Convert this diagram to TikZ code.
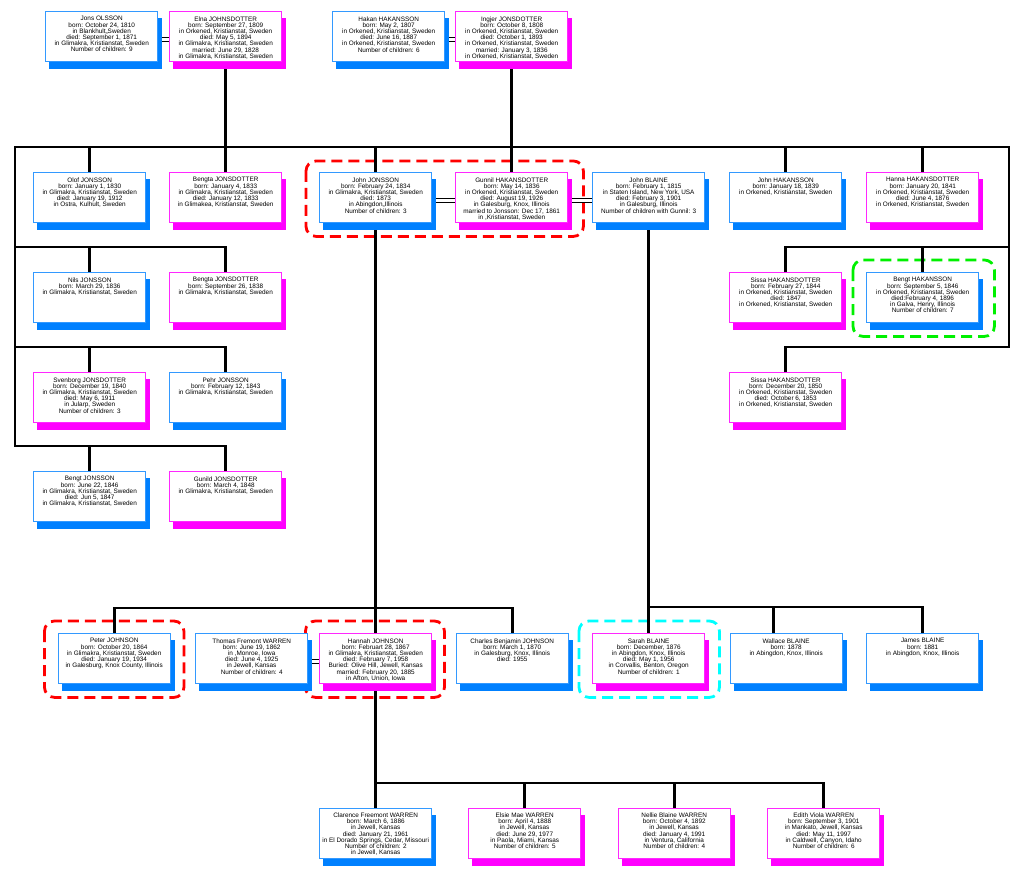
\documentclass[tikz,border=0pt]{standalone}
\usepackage{fontspec}
\setmainfont{Liberation Sans}
\definecolor{maleshadow}{RGB}{0,128,255}
\definecolor{maleborder}{RGB}{51,153,255}
\definecolor{femaleshadow}{RGB}{255,0,255}
\definecolor{femaleborder}{RGB}{255,40,255}
\definecolor{hlred}{RGB}{255,0,0}
\definecolor{hlgreen}{RGB}{0,240,0}
\definecolor{hlcyan}{RGB}{0,255,255}
\pgfdeclarelayer{hilite}
\pgfdeclarelayer{links}
\pgfdeclarelayer{shade}
\pgfsetlayers{hilite,links,shade,main}
\tikzset{
 pbox/.style={fill=white, line width=1.4pt, minimum width=112pt, minimum height=50pt,
   inner sep=0pt, anchor=north west},
 mperson/.style={pbox, draw=maleborder},
 fperson/.style={pbox, draw=femaleborder},
 txt/.style={anchor=north, align=center, inner sep=0pt},
 conn/.style={line width=2.6pt, black, line cap=rect},
 marr/.style={line width=0.9pt, black},
 hl/.style={line width=2.8pt, dash pattern=on 11pt off 6pt, rounded corners=10pt},
}
\begin{document}
\begin{tikzpicture}[x=1pt,y=-1pt]
\fontsize{6.4}{6.2}\selectfont
\lineskiplimit=-5pt
\useasboundingbox (0,0) rectangle (1024,877);
% generation 1
\node[mperson] (jons) at (45,11) {};
\node[txt] (jonst) at ([yshift=-5.2pt]jons.north) {Jons OLSSON\\born: October 24, 1810\\in Blankhult,,Sweden\\died: September 1, 1871\\in Glimakra, Kristianstat, Sweden\\Number of children: 9};
\node[fperson] (elna) at (169,11) {};
\node[txt] (elnat) at ([yshift=-5.2pt]elna.north) {Elna JOHNSDOTTER\\born: September 27, 1809\\in Orkened, Kristianstat, Sweden\\died: May 5, 1894\\in Glimakra, Kristianstat, Sweden\\married: June 29, 1828\\in Glimakra, Kristianstat, Sweden};
\node[mperson] (hakan) at (332,11) {};
\node[txt] (hakant) at ([yshift=-5.2pt]hakan.north) {Hakan HAKANSSON\\born: May 2, 1807\\in Orkened, Kristianstat, Sweden\\died: June 16, 1887\\in Orkened, Kristianstat, Sweden\\Number of children: 6};
\node[fperson] (ingjer) at (455,11) {};
\node[txt] (ingjert) at ([yshift=-5.2pt]ingjer.north) {Ingjer JONSDOTTER\\born: October 8, 1808\\in Orkened, Kristianstat, Sweden\\died: October 1, 1893\\in Orkened, Kristianstat, Sweden\\married: January 3, 1836\\in Orkened, Kristianstat, Sweden};
% generation 2
\node[mperson] (olof) at (33,172) {};
\node[txt] (oloft) at ([yshift=-5.2pt]olof.north) {Olof JONSSON\\born: January 1, 1830\\in Glimakra, Kristianstat, Sweden\\died: January 19, 1912\\in Ostra, Kulhult, Sweden};
\node[fperson] (bengtaA) at (169,172) {};
\node[txt] (bengtaAt) at ([yshift=-5.2pt]bengtaA.north) {Bengta JONSDOTTER\\born: January 4, 1833\\in Glimakra, Kristianstat, Sweden\\died: January 12, 1833\\in Glimakea, Kristianstat, Sweden};
\node[mperson] (johnj) at (319,172) {};
\node[txt] (johnjt) at ([yshift=-5.2pt]johnj.north) {John JONSSON\\born: February 24, 1834\\in Glimakra, Kristianstat, Sweden\\died: 1873\\in Abingdon,,Illinois\\Number of children: 3};
\node[fperson] (gunnil) at (455,172) {};
\node[txt] (gunnilt) at ([yshift=-5.2pt]gunnil.north) {Gunnil HAKANSDOTTER\\born: May 14, 1836\\in Orkened, Kristianstat, Sweden\\died: August 19, 1926\\in Galesburg, Knox, Illinois\\married to Jonsson: Dec 17, 1861\\in ,Kristianstat, Sweden};
\node[mperson] (blaine) at (592,172) {};
\node[txt] (blainet) at ([yshift=-5.2pt]blaine.north) {John BLAINE\\born: February 1, 1815\\in Staten Island, New York, USA\\died: February 3, 1901\\in Galesburg, Illinois\\Number of children with Gunnil: 3};
\node[mperson] (johnh) at (729,172) {};
\node[txt] (johnht) at ([yshift=-5.2pt]johnh.north) {John HAKANSSON\\born: January 18, 1839\\in Orkened, Kristianstat, Sweden};
\node[fperson] (hanna) at (866,172) {};
\node[txt] (hannat) at ([yshift=-5.2pt]hanna.north) {Hanna HAKANSDOTTER\\born: January 20, 1841\\in Orkened, Kristianstat, Sweden\\died: June 4, 1876\\in Orkened, Kristianstat, Sweden};
\node[mperson] (nils) at (33,272) {};
\node[txt] (nilst) at ([yshift=-5.2pt]nils.north) {Nils JONSSON\\born: March 29, 1836\\in Glimakra, Kristianstat, Sweden};
\node[fperson] (bengtaB) at (169,272) {};
\node[txt] (bengtaBt) at ([yshift=-5.2pt]bengtaB.north) {Bengta JONSDOTTER\\born: September 26, 1838\\in Glimakra, Kristianstat, Sweden};
\node[fperson] (sissaA) at (729,272) {};
\node[txt] (sissaAt) at ([yshift=-5.2pt]sissaA.north) {Sissa HAKANSDOTTER\\born: February 27, 1844\\in Orkened, Kristianstat, Sweden\\died: 1847\\in Orkened, Kristianstat, Sweden};
\node[mperson] (bength) at (866,272) {};
\node[txt] (bengtht) at ([yshift=-5.2pt]bength.north) {Bengt HAKANSSON\\born: September 5, 1846\\in Orkened, Kristianstat, Sweden\\died:February 4, 1896\\in Galva, Henry, Illinois\\Number of children: 7};
\node[fperson] (svenborg) at (33,372) {};
\node[txt] (svenborgt) at ([yshift=-5.2pt]svenborg.north) {Svenborg JONSDOTTER\\born: December 19, 1840\\in Glimakra, Kristianstat, Sweden\\died: May 6, 1911\\in Jularp, Sweden\\Number of children: 3};
\node[mperson] (pehr) at (169,372) {};
\node[txt] (pehrt) at ([yshift=-5.2pt]pehr.north) {Pehr JONSSON\\born: February 12, 1843\\in Glimakra, Kristianstat, Sweden};
\node[fperson] (sissaB) at (729,372) {};
\node[txt] (sissaBt) at ([yshift=-5.2pt]sissaB.north) {Sissa HAKANSDOTTER\\born: December 20, 1850\\in Orkened, Kristianstat, Sweden\\died: October 6, 1853\\in Orkened, Kristianstat, Sweden};
\node[mperson] (bengtj) at (33,471) {};
\node[txt] (bengtjt) at ([yshift=-5.2pt]bengtj.north) {Bengt JONSSON\\born: June 22, 1846\\in Glimakra, Kristianstat, Sweden\\died: Jun 5, 1847\\in Glimakra, Kristianstat, Sweden};
\node[fperson] (gunild) at (169,471) {};
\node[txt] (gunildt) at ([yshift=-5.2pt]gunild.north) {Gunild JONSDOTTER\\born: March 4, 1848\\in Glimakra, Kristianstat, Sweden};
% generation 3
\node[mperson] (peter) at (57.5,633) {};
\node[txt] (petert) at ([yshift=-5.2pt]peter.north) {Peter JOHNSON\\born: October 20, 1864\\in Glimakra, Kristianstat, Sweden\\died: January 19, 1934\\in Galesburg, Knox County, Illinois};
\node[mperson] (thomas) at (195,633) {};
\node[txt] (thomast) at ([yshift=-5.2pt]thomas.north) {Thomas Fremont WARREN\\born: June 19, 1862\\in ,Monroe, Iowa\\died: June 4, 1925\\in Jewell, Kansas\\Number of children: 4};
\node[fperson] (hannah) at (319,633) {};
\node[txt] (hannaht) at ([yshift=-5.2pt]hannah.north) {Hannah JOHNSON\\born: Februart 28, 1867\\in Glimakra, Kristianstat, Sweden\\died: February 7, 1958\\Buried: Olive Hill, Jewell, Kansas\\married: February 20, 1885\\in Afton, Union, Iowa};
\node[mperson] (charles) at (455.5,633) {};
\node[txt] (charlest) at ([yshift=-5.2pt]charles.north) {Charles Benjamin JOHNSON\\born: March 1, 1870\\in Galesburg, Knox, Illinois\\died: 1955};
\node[fperson] (sarah) at (592,633) {};
\node[txt] (saraht) at ([yshift=-5.2pt]sarah.north) {Sarah BLAINE\\born: December, 1876\\in Abingdon, Knox, Illinois\\died: May 1, 1956\\in Corvallis, Benton, Oregon\\Number of children: 1};
\node[mperson] (wallace) at (729.5,633) {};
\node[txt] (wallacet) at ([yshift=-5.2pt]wallace.north) {Wallace BLAINE\\born: 1878\\in Abingdon, Knox, Illinois};
\node[mperson] (james) at (866,633) {};
\node[txt] (jamest) at ([yshift=-5.2pt]james.north) {James BLAINE\\born: 1881\\in Abingdon, Knox, Illinois};
% generation 4
\node[mperson] (clarence) at (319,807.5) {};
\node[txt] (clarencet) at ([yshift=-5.2pt]clarence.north) {Clarence Freemont WARREN\\born: March 6, 1886\\in Jewell, Kansas\\died: January 21, 1961\\in El Dorado Springs, Cedar, Missouri\\Number of children: 2\\in Jewell, Kansas};
\node[fperson] (elsie) at (468,807.5) {};
\node[txt] (elsiet) at ([yshift=-5.2pt]elsie.north) {Elsie Mae WARREN\\born: April 4, 1888\\in Jewell, Kansas\\died: June 29, 1977\\in Paola, Miami, Kansas\\Number of children: 5};
\node[fperson] (nellie) at (617.5,807.5) {};
\node[txt] (nelliet) at ([yshift=-5.2pt]nellie.north) {Nellie Blaine WARREN\\born: October 4, 1892\\in Jewell, Kansas\\died: January 4, 1991\\in Ventura, California\\Number of children: 4};
\node[fperson] (edith) at (767,807.5) {};
\node[txt] (editht) at ([yshift=-5.2pt]edith.north) {Edith Viola WARREN\\born: September 3, 1901\\in Mankato, Jewell, Kansas\\died: May 11, 1997\\in Caldwell, Canyon, Idaho\\Number of children: 6};
% junction coordinates
\coordinate (tL) at (15,147);
\coordinate (tR) at (1009,147);
\coordinate (l2) at (15,247);
\coordinate (l3) at (15,347);
\coordinate (l4) at (15,446);
\coordinate (r2) at (1009,247);
\coordinate (r3) at (1009,347);
\coordinate (k5) at (0,608);
\coordinate (k6) at (0,607);
\coordinate (k7) at (0,783);
\begin{pgfonlayer}{shade}
\foreach \nn in {jons,hakan,olof,johnj,blaine,johnh,nils,bength,pehr,bengtj,peter,thomas,charles,wallace,james,clarence}
  \fill[maleshadow] ([shift={(4pt,-7pt)}]\nn.north west) rectangle ([shift={(4pt,-7pt)}]\nn.south east);
\foreach \nn in {elna,ingjer,bengtaA,gunnil,hanna,bengtaB,sissaA,svenborg,sissaB,gunild,hannah,sarah,elsie,nellie,edith}
  \fill[femaleshadow] ([shift={(4pt,-7pt)}]\nn.north west) rectangle ([shift={(4pt,-7pt)}]\nn.south east);
\end{pgfonlayer}
\begin{pgfonlayer}{hilite}
\fill[white] (0,0) rectangle (1024,877);
\draw[hl, hlred] ([shift={(-13pt,11pt)}]johnj.north west) rectangle ([shift={(15pt,-13pt)}]gunnil.south east);
\draw[hl, hlgreen] ([shift={(-13pt,12pt)}]bength.north west) rectangle ([shift={(15pt,-13pt)}]bength.south east);
\draw[hl, hlred] ([shift={(-13pt,12pt)}]peter.north west) rectangle ([shift={(13pt,-13pt)}]peter.south east);
\draw[hl, hlred] ([shift={(-13.5pt,12pt)}]hannah.north west) rectangle ([shift={(12pt,-13pt)}]hannah.south east);
\draw[hl, hlcyan] ([shift={(-13pt,12pt)}]sarah.north west) rectangle ([shift={(14pt,-13pt)}]sarah.south east);
\end{pgfonlayer}
\begin{pgfonlayer}{links}
\draw[conn] (l4) -- (tL) -- (tR) -- (r3);
\draw[conn] (elna.south) -- (elna.south |- tL);
\draw[conn] (ingjer.south) -- (gunnil.north);
\foreach \nn in {olof,bengtaA,johnj,johnh,hanna} \draw[conn] (\nn.north) -- (\nn.north |- tL);
\draw[conn] (l2) -| (bengtaB.north);
\draw[conn] (nils.north) -- (nils.north |- l2);
\draw[conn] (l3) -| (pehr.north);
\draw[conn] (svenborg.north) -- (svenborg.north |- l3);
\draw[conn] (l4) -| (gunild.north);
\draw[conn] (bengtj.north) -- (bengtj.north |- l4);
\draw[conn] (r2) -| (sissaA.north);
\draw[conn] (bength.north) -- (bength.north |- r2);
\draw[conn] (r3) -| (sissaB.north);
\draw[conn] (johnj.south) -- (hannah.north);
\draw[conn] (peter.north) |- (charles.north |- k5) -- (charles.north);
\draw[conn] (blaine.south) -- (sarah.north);
\draw[conn] (sarah.north |- k6) -| (james.north);
\draw[conn] ([xshift=-12.5pt]wallace.north) -- ([xshift=-12.5pt]wallace.north |- k6);
\draw[conn] (hannah.south) -- (clarence.north);
\draw[conn] (clarence.north |- k7) -| (edith.north);
\draw[conn] (elsie.north) -- (elsie.north |- k7);
\draw[conn] (nellie.north) -- (nellie.north |- k7);
\foreach \ma/\mb in {jons/elna,hakan/ingjer,johnj/gunnil,gunnil/blaine,thomas/hannah}{
  \draw[marr] ([yshift=-0.3pt]\ma.east) -- ([yshift=-0.3pt]\mb.west);
  \draw[marr] ([yshift=-4.8pt]\ma.east) -- ([yshift=-4.8pt]\mb.west);
}
\end{pgfonlayer}
\end{tikzpicture}
\end{document}
